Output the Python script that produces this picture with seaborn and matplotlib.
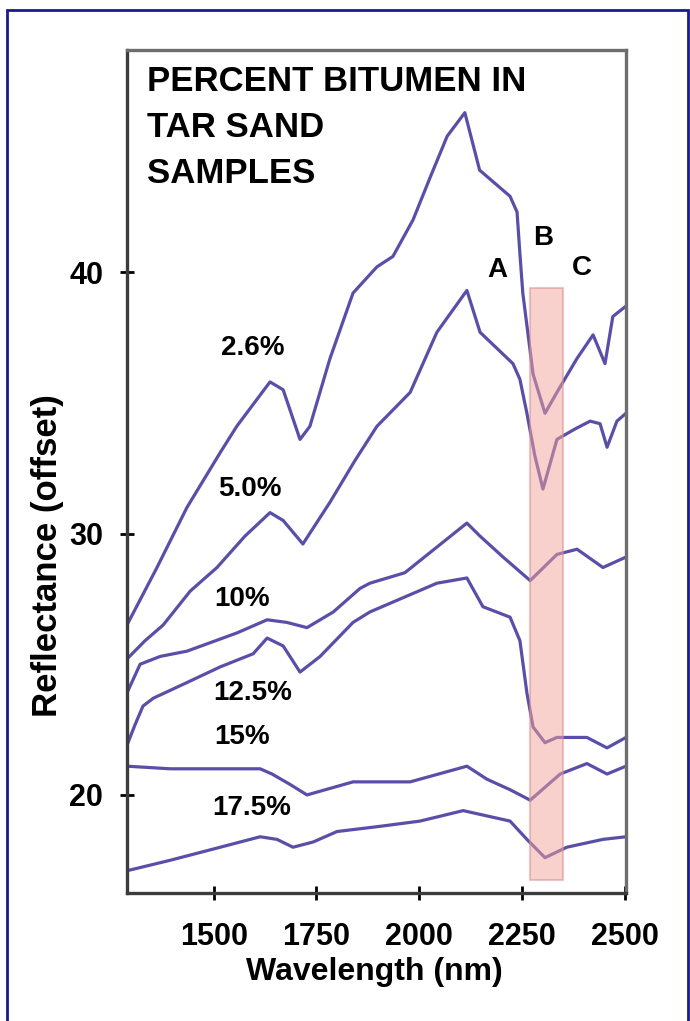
import matplotlib
matplotlib.use('Agg')
import matplotlib.pyplot as plt
from matplotlib.patches import Rectangle
import seaborn as sns

# spectra (wavelength nm, reflectance offset)
wl_26 = [1289, 1362, 1435, 1516, 1556, 1637, 1669, 1710, 1734, 1783, 1839, 1897, 1936, 1985,
         2026, 2068, 2111, 2147, 2221, 2238, 2245, 2252, 2277, 2306, 2335, 2384, 2423, 2452, 2471, 2503]
refl_26 = [26.5, 28.7, 31.0, 33.1, 34.1, 35.8, 35.5, 33.6, 34.1, 36.7, 39.2, 40.2, 40.6, 42.0,
           43.6, 45.2, 46.1, 43.9, 42.9, 42.3, 40.7, 39.2, 36.1, 34.6, 35.4, 36.7, 37.6, 36.5, 38.3, 38.7]

wl_50 = [1289, 1333, 1377, 1443, 1508, 1576, 1637, 1669, 1717, 1783, 1844, 1897, 1978, 2043,
         2116, 2148, 2228, 2245, 2262, 2281, 2301, 2335, 2379, 2416, 2440, 2457, 2481, 2503]
refl_50 = [25.2, 25.9, 26.5, 27.8, 28.7, 29.9, 30.8, 30.5, 29.6, 31.2, 32.8, 34.1, 35.4, 37.7,
           39.3, 37.7, 36.5, 35.9, 34.6, 33.0, 31.7, 33.6, 34.0, 34.3, 34.2, 33.3, 34.3, 34.6]

wl_100 = [1289, 1321, 1370, 1435, 1557, 1630, 1678, 1727, 1791, 1856, 1880, 1965, 2116, 2148,
          2204, 2270, 2335, 2384, 2447, 2503]
refl_100 = [23.9, 25.0, 25.3, 25.5, 26.2, 26.7, 26.6, 26.4, 27.0, 27.9, 28.1, 28.5, 30.4, 29.9,
            29.1, 28.2, 29.2, 29.4, 28.7, 29.1]

wl_125 = [1289, 1309, 1328, 1353, 1435, 1516, 1596, 1630, 1669, 1710, 1759, 1839, 1880, 2043,
          2116, 2155, 2221, 2245, 2262, 2277, 2306, 2335, 2408, 2457, 2503]
refl_125 = [21.9, 22.7, 23.4, 23.7, 24.3, 24.9, 25.4, 26.0, 25.7, 24.7, 25.3, 26.6, 27.0, 28.1,
            28.3, 27.2, 26.8, 25.9, 23.9, 22.6, 22.0, 22.2, 22.2, 21.8, 22.2]

wl_150 = [1289, 1394, 1613, 1642, 1686, 1727, 1839, 1978, 2116, 2165, 2221, 2270, 2343, 2408,
          2457, 2503]
refl_150 = [21.1, 21.0, 21.0, 20.8, 20.4, 20.0, 20.5, 20.5, 21.1, 20.6, 20.2, 19.8, 20.8, 21.2,
            20.8, 21.1]

wl_175 = [1289, 1394, 1516, 1613, 1654, 1693, 1742, 1800, 1905, 2002, 2107, 2221, 2262, 2306,
          2359, 2447, 2503]
refl_175 = [17.1, 17.5, 18.0, 18.4, 18.3, 18.0, 18.2, 18.6, 18.8, 19.0, 19.4, 19.0, 18.3, 17.6,
            18.0, 18.3, 18.4]

series = [(wl_26, refl_26), (wl_50, refl_50), (wl_100, refl_100),
          (wl_125, refl_125), (wl_150, refl_150), (wl_175, refl_175)]

pct_labels = ['2.6%', '5.0%', '10%', '12.5%', '15%', '17.5%']
pct_x = [1596, 1588, 1569, 1596, 1569, 1593]
pct_y = [37.1, 31.7, 27.5, 23.9, 22.2, 19.5]

feat_labels = ['A', 'B', 'C']
feat_x = [2190, 2301, 2396]
feat_y = [40.1, 41.3, 40.15]

band_lo, band_hi = 2270, 2350
band_bottom, band_top = 16.75, 39.4

xticks = [1500, 1750, 2000, 2250, 2500]
yticks = [20, 30, 40]
title_lines = ['PERCENT BITUMEN IN', 'TAR SAND', 'SAMPLES']

sns.set_style('white')
plt.rcParams['font.family'] = ['Liberation Sans', 'DejaVu Sans']
plt.rcParams['font.weight'] = 'bold'
plt.rcParams['text.color'] = 'black'
plt.rcParams['axes.labelcolor'] = 'black'
plt.rcParams['xtick.color'] = 'black'
plt.rcParams['ytick.color'] = 'black'

fig = plt.figure(figsize=(6.9, 10.21), dpi=100)
ax = fig.add_axes([0.184, 0.1254, 0.7232, 0.8257])

line_color = '#5a4fa8'
for wl, refl in series:
    sns.lineplot(x=wl, y=refl, sort=False, estimator=None, color=line_color,
                 linewidth=2.3, ax=ax)

ax.fill_between([band_lo, band_hi], band_bottom, band_top, facecolor='#f2a49c',
                edgecolor='#d88c8c', linewidth=1.5, alpha=0.5, zorder=3)

for lab, x, y in zip(pct_labels, pct_x, pct_y):
    ax.text(x, y, lab, fontsize=20, fontweight='bold', ha='center', va='center')
for lab, x, y in zip(feat_labels, feat_x, feat_y):
    ax.text(x, y, lab, fontsize=20, fontweight='bold', ha='center', va='center')

for i, line in enumerate(title_lines):
    ax.text(0.04, 0.982 - i * 0.0546, line, transform=ax.transAxes, fontsize=25,
            fontweight='bold', ha='left', va='top')

ax.set_xlim(1289, 2503)
ax.set_ylim(16.25, 48.5)
ax.set_xticks(xticks)
ax.set_yticks(yticks)
ax.tick_params(axis='both', bottom=True, left=True, direction='inout', length=10,
               width=2, labelsize=22)
ax.tick_params(axis='x', pad=16)
ax.tick_params(axis='y', pad=12)
for lab in ax.get_xticklabels() + ax.get_yticklabels():
    lab.set_fontweight('bold')

ax.set_xlabel('Wavelength (nm)', fontsize=23, fontweight='bold')
ax.set_ylabel('Reflectance (offset)', fontsize=25, fontweight='bold')
ax.xaxis.set_label_coords(0.496, -0.094)
ax.xaxis.label.set_va('center')
ax.yaxis.set_label_coords(-0.16, 0.40)
ax.yaxis.label.set_va('center')

for side in ['left', 'bottom']:
    ax.spines[side].set_color('#3c3c3c')
    ax.spines[side].set_linewidth(2.4)
for side in ['top', 'right']:
    ax.spines[side].set_color('#6e6e6e')
    ax.spines[side].set_linewidth(2.4)

# navy frame around the whole picture
fig.add_artist(Rectangle((7 / 690, -0.01), 681 / 690, 1 - 10 / 1021 + 0.01,
                         transform=fig.transFigure, fill=False,
                         edgecolor='#1a1a8c', linewidth=2))

fig.savefig('out.png', dpi=100)
